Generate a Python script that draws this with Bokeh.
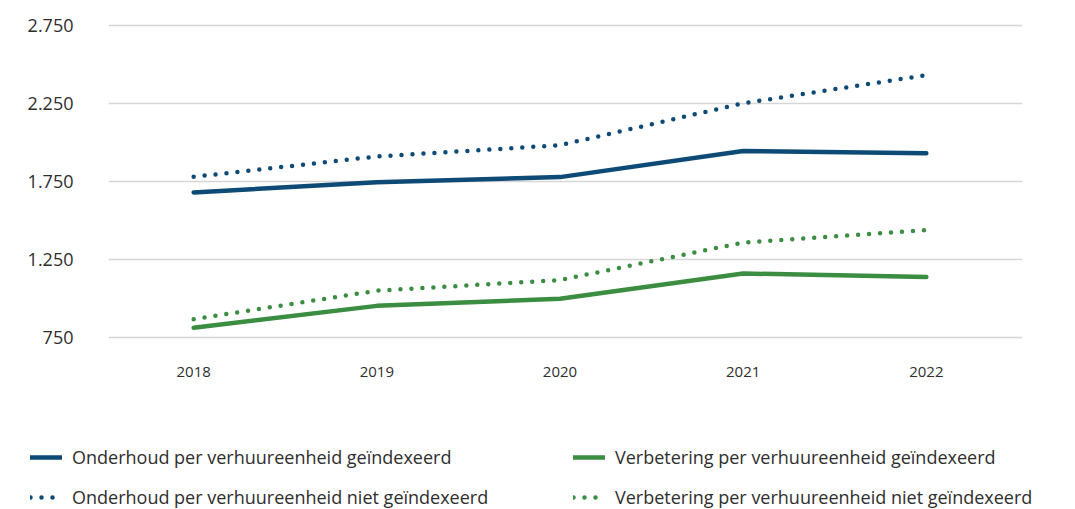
from bokeh.plotting import figure
from bokeh.layouts import column
from bokeh.models import Range1d, FixedTicker, Legend, LegendItem
from bokeh.embed import file_html
from bokeh.resources import INLINE

years = [2018, 2019, 2020, 2021, 2022]
year_labels = ["2018", "2019", "2020", "2021", "2022"]
onderhoud_idx = [1680, 1745, 1778, 1945, 1930]
onderhoud_niet = [1780, 1910, 1982, 2250, 2430]
verbetering_idx = [815, 955, 1000, 1162, 1140]
verbetering_niet = [870, 1052, 1120, 1360, 1440]
y_ticks = [750, 1250, 1750, 2250, 2750]
y_tick_labels = ["750", "1.250", "1.750", "2.250", "2.750"]
legend_labels = [
    "Onderhoud per verhuureenheid geïndexeerd",
    "Onderhoud per verhuureenheid niet geïndexeerd",
    "Verbetering per verhuureenheid geïndexeerd",
    "Verbetering per verhuureenheid niet geïndexeerd",
]

BLUE = "#0d4a76"
GREEN = "#3a8d41"
FONT = "Open Sans"
TEXT = "#2e2e2e"

series = [
    (onderhoud_idx, BLUE, None),
    (onderhoud_niet, BLUE, "0 11"),
    (verbetering_idx, GREEN, None),
    (verbetering_niet, GREEN, "0 11"),
]


def draw_lines(fig, visible=True):
    rs = []
    for vals, color, dash in series:
        kw = dict(line_color=color, line_width=4.5, line_cap="round", line_join="round", visible=visible)
        if dash:
            kw["line_dash"] = dash
        rs.append(fig.line(years, vals, **kw))
    return rs


p = figure(width=1075, height=400, output_backend="svg", toolbar_location=None,
           x_range=Range1d(2017.535, 2022.525), y_range=Range1d(740, 2760),
           min_border_left=108, min_border_right=53, min_border_top=23, min_border_bottom=61)
p.frame_align = False
p.outline_line_color = None
p.background_fill_color = "white"
p.border_fill_color = "white"

p.yaxis.ticker = FixedTicker(ticks=y_ticks)
p.yaxis.major_label_overrides = {t: l for t, l in zip(y_ticks, y_tick_labels)}
p.xaxis.ticker = FixedTicker(ticks=years)
p.xaxis.major_label_overrides = {t: l for t, l in zip(years, year_labels)}
for ax in (p.xaxis, p.yaxis):
    ax.axis_line_color = None
    ax.major_tick_line_color = None
    ax.minor_tick_line_color = None
    ax.major_label_text_font = FONT
    ax.major_label_text_color = TEXT
p.yaxis.major_label_text_font_size = "18px"
p.xaxis.major_label_text_font_size = "15px"
p.yaxis.major_label_standoff = 29
p.xaxis.major_label_standoff = 21

p.xgrid.grid_line_color = None
p.ygrid.grid_line_color = "#d6d6d6"
p.ygrid.grid_line_width = 1.5

draw_lines(p)

# legend strip below the chart
q = figure(width=1075, height=109, output_backend="svg", toolbar_location=None,
           x_range=Range1d(0, 1), y_range=Range1d(0, 1),
           min_border=0, min_border_left=0, min_border_right=0, min_border_top=0, min_border_bottom=0)
q.frame_align = False
q.axis.visible = False
q.grid.visible = False
q.outline_line_color = None
q.background_fill_color = "white"
q.border_fill_color = "white"
lr = draw_lines(q, visible=False)

legend = Legend(
    items=[LegendItem(label=legend_labels[i], renderers=[lr[i]]) for i in range(4)],
    location=(30, 0), nrows=2,
    glyph_width=32, glyph_height=20, label_height=20, label_standoff=10,
    label_width=485, spacing=16, padding=0, margin=0,
    border_line_color=None, background_fill_alpha=0,
    label_text_font=FONT, label_text_font_size="18px", label_text_color=TEXT,
)
q.add_layout(legend, "center")

open("out.html", "w").write(file_html(column(p, q, spacing=0), INLINE))
